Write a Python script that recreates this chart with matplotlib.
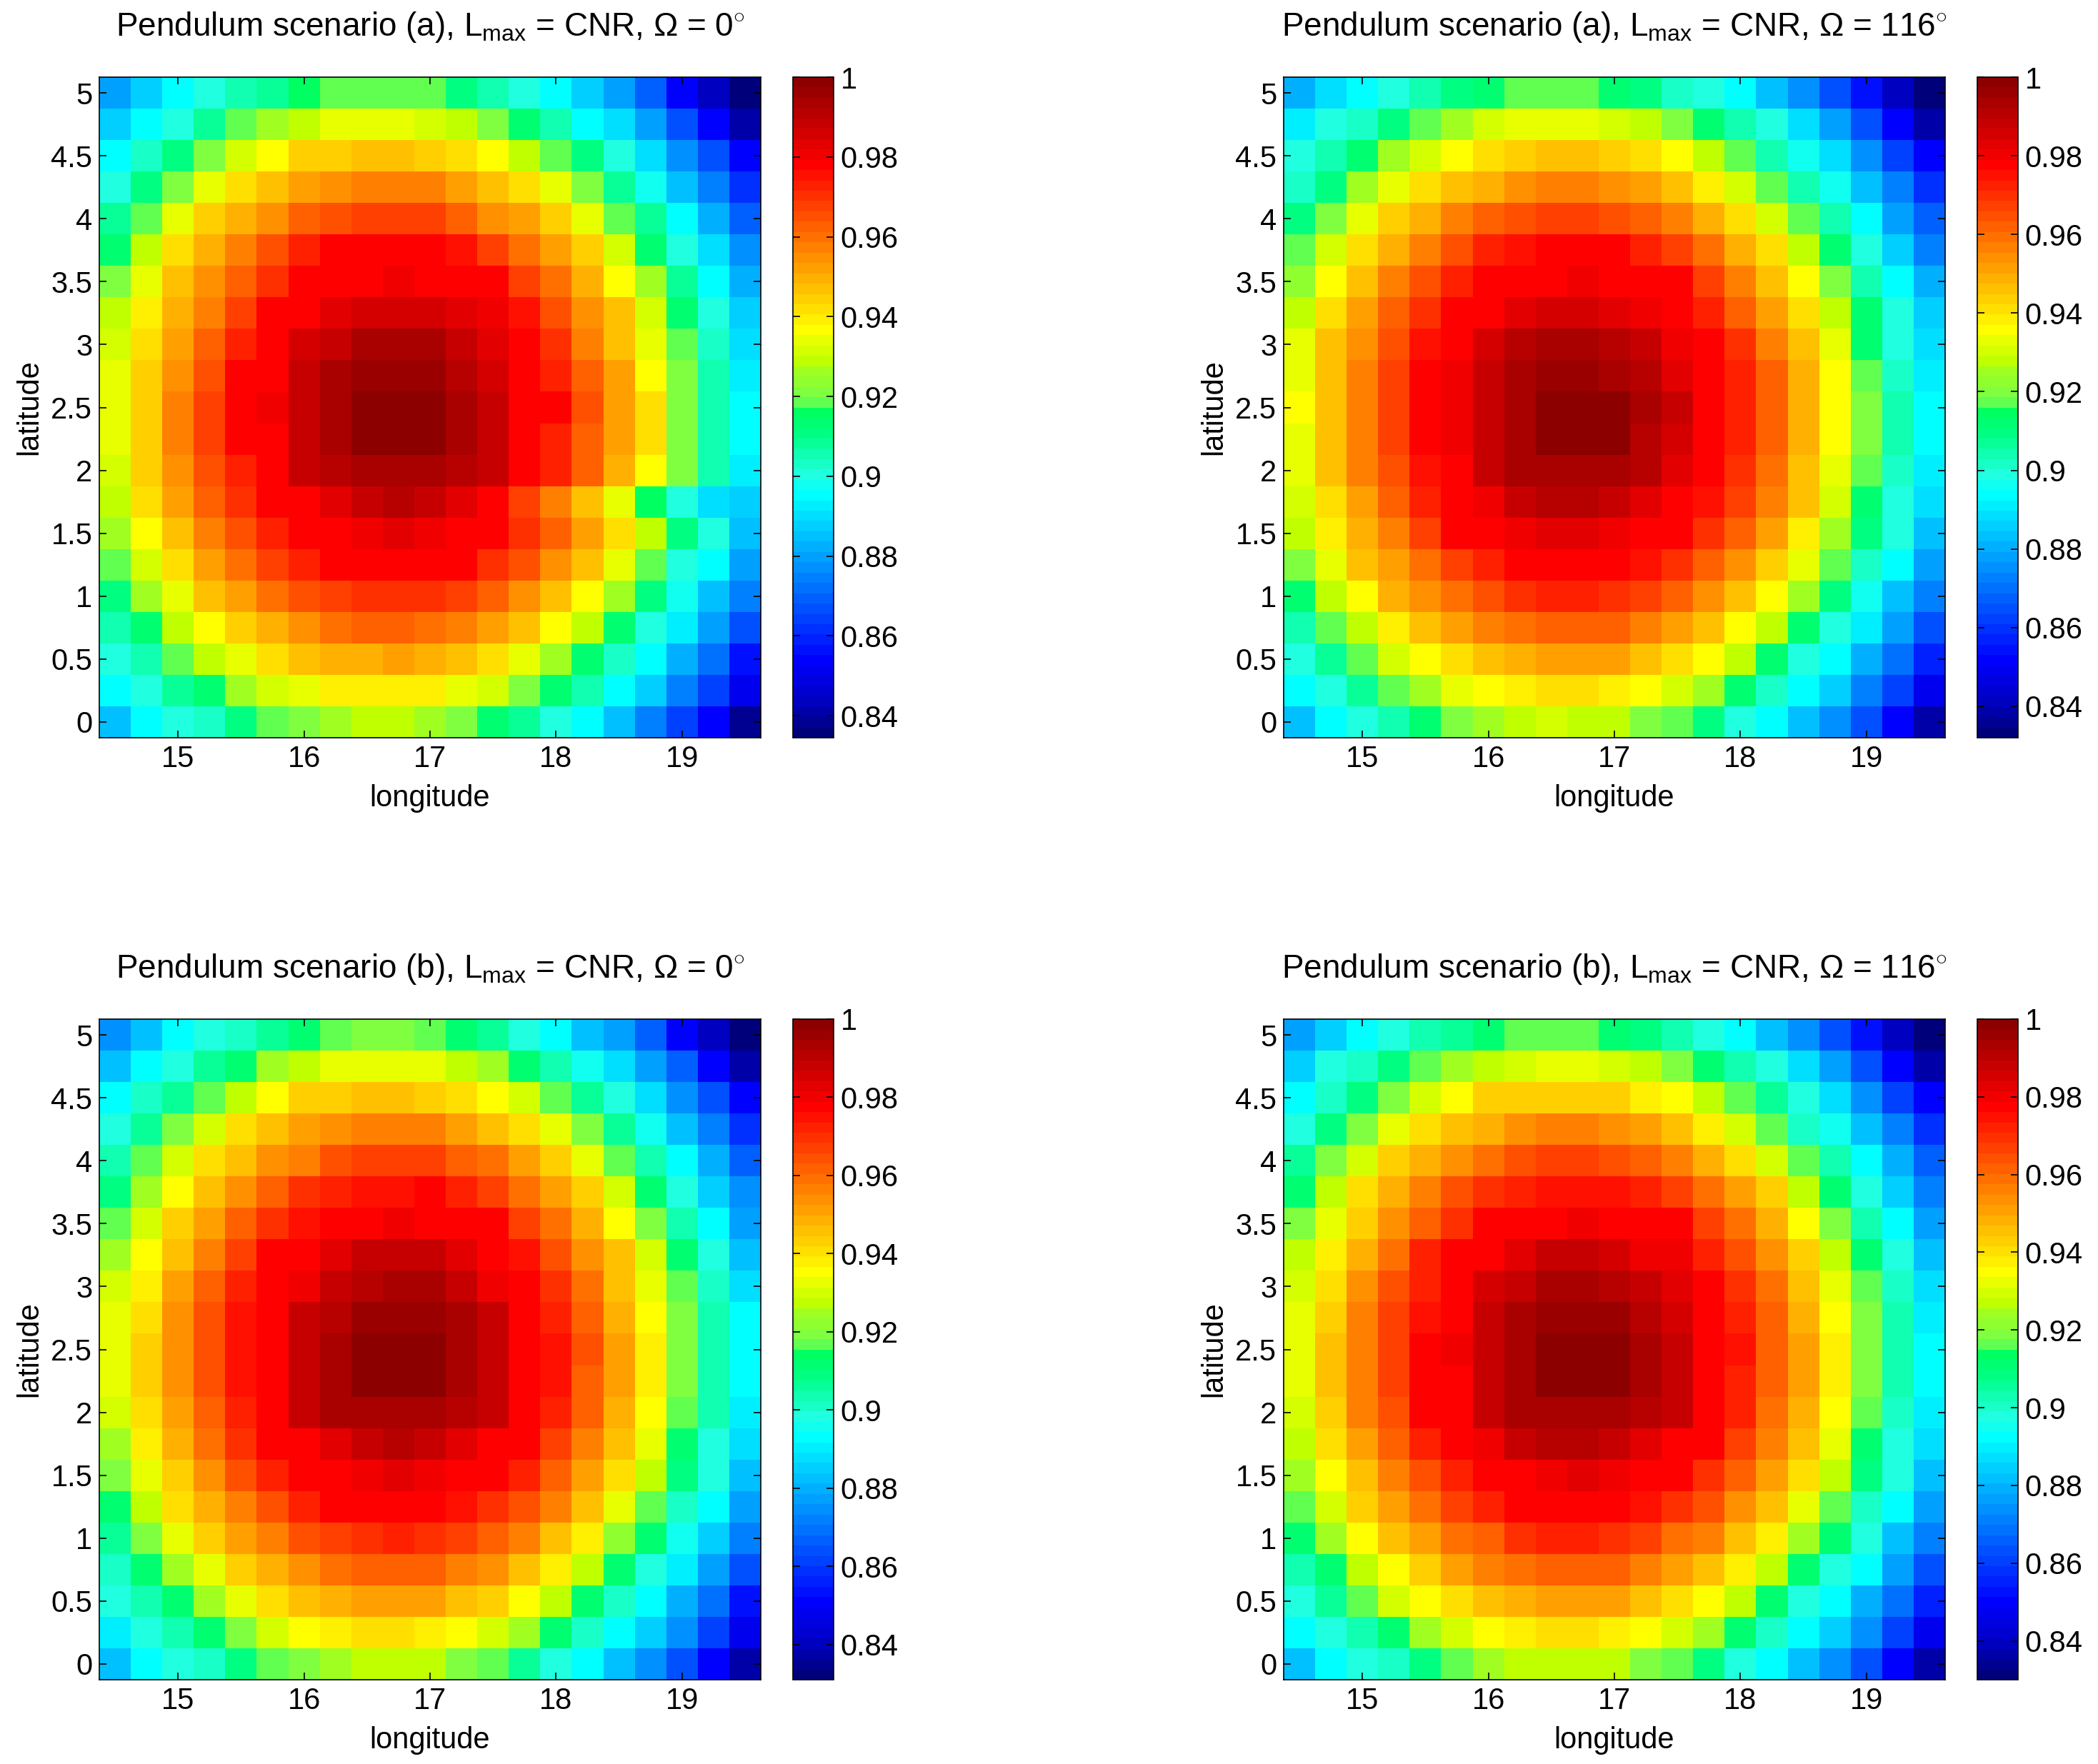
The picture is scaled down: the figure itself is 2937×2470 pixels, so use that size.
import numpy as np
import matplotlib
matplotlib.use('Agg')
import matplotlib.pyplot as plt
from matplotlib.colors import ListedColormap, Normalize
from matplotlib.ticker import FuncFormatter

# ====== SETTINGS ======
font_size = 30
title_size = 33
plt.rcParams['font.family'] = ['Liberation Sans', 'DejaVu Sans']
plt.rcParams['font.size'] = font_size
plt.rcParams['mathtext.fontset'] = 'custom'
plt.rcParams['mathtext.rm'] = 'Liberation Sans'
plt.rcParams['mathtext.it'] = 'Liberation Sans:italic'
plt.rcParams['mathtext.bf'] = 'Liberation Sans:bold'
# ======================

# grid centres
lon = [14.5, 14.75, 15.0, 15.25, 15.5, 15.75, 16.0, 16.25, 16.5, 16.75, 17.0,
       17.25, 17.5, 17.75, 18.0, 18.25, 18.5, 18.75, 19.0, 19.25, 19.5]
lat = [5.0, 4.75, 4.5, 4.25, 4.0, 3.75, 3.5, 3.25, 3.0, 2.75, 2.5,
       2.25, 2.0, 1.75, 1.5, 1.25, 1.0, 0.75, 0.5, 0.25, 0.0]   # top row first

titles = ['Pendulum scenario (a), L$_{\\mathrm{max}}$ = CNR, $\\Omega$ = 0$^{\\circ}$',
          'Pendulum scenario (a), L$_{\\mathrm{max}}$ = CNR, $\\Omega$ = 116$^{\\circ}$',
          'Pendulum scenario (b), L$_{\\mathrm{max}}$ = CNR, $\\Omega$ = 0$^{\\circ}$',
          'Pendulum scenario (b), L$_{\\mathrm{max}}$ = CNR, $\\Omega$ = 116$^{\\circ}$']

# colour-scale limits
clim_low = [0.8345, 0.832, 0.831, 0.830]
clim_high = [1.0, 1.0, 1.0, 1.0]
n_levels = 64

cbar_ticks = [0.84, 0.86, 0.88, 0.90, 0.92, 0.94, 0.96, 0.98, 1.0]

# colour level (1..64) read for each cell, rows from lat=5 down to lat=0
level_a0 = [
    [18, 21, 24, 26, 28, 29, 32, 33, 33, 33, 33, 30, 28, 26, 24, 21, 18, 14, 8, 4, 1],
    [21, 24, 26, 29, 33, 36, 37, 39, 39, 39, 38, 37, 34, 31, 28, 24, 22, 18, 13, 8, 3],
    [24, 27, 30, 34, 38, 40, 43, 43, 44, 44, 43, 42, 40, 37, 33, 30, 26, 22, 17, 13, 8],
    [26, 30, 34, 39, 42, 44, 46, 47, 48, 48, 48, 46, 44, 42, 39, 34, 29, 25, 20, 16, 11],
    [29, 33, 39, 43, 45, 47, 50, 51, 52, 52, 52, 50, 47, 46, 43, 39, 33, 29, 24, 19, 14],
    [31, 37, 42, 45, 48, 51, 54, 56, 56, 56, 56, 55, 52, 49, 46, 43, 38, 31, 26, 22, 17],
    [34, 39, 44, 47, 50, 53, 56, 56, 56, 57, 56, 56, 56, 52, 49, 45, 40, 36, 29, 24, 19],
    [37, 41, 45, 48, 52, 56, 56, 58, 59, 59, 59, 58, 57, 55, 51, 47, 44, 38, 31, 26, 21],
    [38, 42, 46, 50, 54, 56, 59, 60, 62, 62, 62, 60, 58, 56, 53, 48, 44, 39, 33, 27, 22],
    [39, 43, 47, 51, 56, 56, 60, 62, 63, 63, 63, 61, 59, 56, 54, 50, 46, 40, 34, 28, 23],
    [39, 43, 48, 52, 56, 57, 60, 62, 64, 64, 64, 62, 60, 56, 56, 51, 46, 42, 34, 28, 24],
    [39, 43, 48, 52, 56, 56, 60, 62, 64, 64, 64, 62, 60, 56, 54, 50, 46, 42, 34, 28, 24],
    [38, 43, 47, 51, 54, 56, 60, 61, 62, 62, 62, 61, 60, 56, 54, 50, 45, 40, 34, 28, 23],
    [37, 42, 46, 50, 53, 56, 56, 58, 60, 61, 60, 58, 56, 52, 48, 44, 39, 32, 26, 22, 21],
    [36, 40, 44, 48, 51, 54, 56, 56, 57, 58, 57, 56, 56, 53, 50, 46, 42, 37, 30, 26, 20],
    [33, 38, 42, 46, 49, 52, 54, 56, 56, 56, 56, 56, 53, 51, 47, 44, 39, 33, 26, 24, 18],
    [30, 36, 39, 44, 46, 49, 51, 52, 53, 53, 53, 52, 50, 47, 44, 40, 36, 30, 25, 20, 16],
    [28, 31, 37, 40, 43, 45, 47, 49, 50, 50, 49, 48, 46, 44, 40, 37, 31, 26, 23, 18, 13],
    [26, 28, 33, 37, 39, 42, 44, 45, 45, 46, 45, 44, 42, 39, 36, 31, 27, 24, 19, 15, 9],
    [24, 26, 29, 31, 36, 38, 39, 41, 41, 41, 41, 39, 38, 34, 31, 28, 24, 21, 16, 12, 7],
    [20, 24, 26, 27, 30, 33, 34, 36, 37, 37, 36, 34, 31, 29, 26, 24, 20, 16, 12, 8, 2],
]

level_a116 = [
    [19, 22, 24, 26, 28, 30, 31, 33, 33, 33, 31, 30, 27, 26, 24, 20, 17, 13, 9, 4, 1],
    [23, 26, 27, 30, 33, 36, 38, 39, 39, 39, 38, 37, 34, 31, 28, 26, 22, 18, 13, 8, 3],
    [26, 28, 31, 36, 38, 40, 42, 43, 44, 44, 43, 42, 40, 37, 33, 28, 25, 22, 17, 12, 8],
    [27, 30, 36, 39, 42, 44, 45, 47, 48, 48, 47, 46, 44, 41, 38, 33, 28, 25, 20, 16, 11],
    [30, 34, 39, 43, 45, 48, 50, 51, 52, 52, 51, 50, 48, 45, 42, 38, 33, 28, 24, 18, 14],
    [33, 38, 42, 45, 48, 51, 54, 55, 56, 56, 56, 54, 52, 49, 45, 42, 37, 31, 26, 21, 16],
    [35, 40, 44, 48, 51, 54, 56, 56, 56, 57, 56, 56, 56, 52, 48, 44, 40, 34, 28, 24, 19],
    [37, 42, 46, 50, 53, 56, 56, 58, 59, 59, 58, 57, 56, 54, 50, 46, 42, 37, 31, 26, 21],
    [39, 44, 47, 51, 55, 56, 59, 61, 62, 62, 61, 60, 57, 56, 53, 48, 44, 39, 31, 26, 22],
    [39, 44, 48, 52, 56, 57, 60, 62, 63, 63, 62, 61, 58, 56, 54, 50, 45, 40, 33, 27, 23],
    [40, 44, 48, 52, 56, 57, 60, 62, 64, 64, 64, 62, 60, 56, 54, 50, 45, 40, 34, 28, 24],
    [39, 44, 48, 52, 56, 57, 60, 62, 64, 64, 64, 61, 59, 56, 54, 50, 45, 40, 34, 28, 24],
    [39, 44, 48, 51, 55, 56, 60, 62, 62, 62, 62, 61, 58, 56, 53, 49, 44, 39, 33, 27, 23],
    [38, 42, 46, 50, 54, 56, 57, 60, 61, 61, 60, 58, 56, 55, 52, 48, 44, 38, 31, 26, 22],
    [37, 41, 45, 48, 52, 56, 56, 57, 58, 58, 57, 56, 56, 53, 50, 46, 41, 36, 30, 26, 20],
    [34, 39, 44, 46, 49, 52, 54, 56, 56, 56, 56, 55, 53, 50, 47, 43, 39, 33, 27, 24, 18],
    [31, 37, 40, 45, 47, 49, 51, 53, 54, 54, 53, 52, 50, 47, 44, 40, 36, 30, 25, 20, 16],
    [28, 33, 37, 41, 44, 46, 48, 49, 50, 50, 50, 48, 46, 44, 40, 37, 31, 26, 23, 18, 13],
    [26, 29, 33, 38, 40, 42, 44, 45, 46, 46, 46, 44, 42, 40, 37, 31, 26, 24, 19, 15, 10],
    [24, 26, 29, 33, 36, 39, 40, 41, 42, 42, 41, 40, 38, 36, 31, 27, 24, 21, 16, 12, 7],
    [20, 24, 26, 28, 31, 34, 36, 37, 38, 37, 37, 34, 33, 30, 26, 24, 20, 17, 13, 8, 3],
]

level_b0 = [
    [17, 20, 24, 26, 27, 29, 31, 33, 34, 34, 33, 31, 29, 26, 24, 20, 18, 14, 8, 4, 1],
    [20, 24, 26, 29, 31, 36, 37, 39, 39, 39, 39, 37, 36, 31, 28, 25, 22, 18, 14, 8, 3],
    [24, 27, 29, 33, 37, 40, 43, 43, 44, 44, 43, 42, 40, 38, 33, 29, 26, 22, 17, 13, 8],
    [26, 29, 34, 38, 42, 44, 46, 47, 48, 48, 48, 46, 44, 42, 39, 34, 29, 25, 20, 16, 11],
    [28, 33, 38, 42, 44, 47, 48, 51, 52, 52, 52, 50, 49, 46, 43, 39, 33, 28, 24, 19, 14],
    [30, 36, 40, 44, 47, 50, 53, 54, 55, 55, 56, 54, 52, 49, 46, 43, 38, 31, 26, 21, 17],
    [33, 38, 43, 46, 50, 53, 55, 56, 56, 57, 56, 56, 56, 52, 49, 45, 40, 34, 28, 24, 18],
    [36, 40, 44, 48, 52, 56, 56, 58, 60, 60, 60, 58, 56, 55, 51, 47, 44, 38, 31, 26, 20],
    [38, 41, 46, 50, 54, 56, 57, 60, 61, 62, 62, 60, 57, 56, 53, 49, 44, 39, 33, 27, 22],
    [39, 42, 47, 51, 55, 56, 60, 61, 63, 63, 63, 62, 60, 56, 54, 50, 45, 40, 34, 28, 24],
    [39, 43, 47, 51, 55, 56, 60, 62, 64, 64, 64, 62, 60, 56, 55, 51, 46, 41, 34, 28, 24],
    [39, 43, 47, 51, 55, 56, 60, 62, 64, 64, 64, 62, 60, 56, 55, 50, 46, 41, 34, 28, 24],
    [38, 42, 46, 50, 54, 56, 60, 62, 62, 62, 62, 61, 60, 56, 54, 50, 45, 40, 33, 28, 23],
    [36, 41, 45, 49, 53, 56, 56, 58, 60, 61, 60, 58, 56, 56, 52, 48, 44, 39, 31, 26, 22],
    [34, 39, 43, 47, 51, 54, 56, 56, 57, 58, 57, 56, 56, 54, 50, 46, 42, 37, 30, 26, 20],
    [31, 37, 42, 45, 48, 51, 54, 56, 56, 56, 56, 55, 53, 51, 48, 44, 39, 33, 27, 24, 18],
    [29, 34, 39, 43, 46, 48, 51, 52, 53, 54, 53, 52, 50, 48, 44, 41, 35, 31, 25, 21, 16],
    [27, 31, 36, 39, 43, 45, 47, 49, 50, 50, 50, 48, 47, 44, 41, 37, 31, 26, 23, 18, 13],
    [26, 28, 31, 36, 39, 42, 44, 45, 46, 46, 46, 44, 43, 40, 37, 31, 27, 24, 19, 15, 9],
    [23, 26, 28, 31, 34, 38, 40, 41, 42, 42, 41, 40, 38, 36, 31, 27, 24, 21, 17, 12, 7],
    [20, 24, 26, 27, 30, 33, 34, 36, 37, 37, 37, 34, 33, 29, 26, 24, 20, 17, 13, 8, 3],
]

level_b116 = [
    [18, 21, 24, 26, 28, 29, 31, 33, 33, 33, 31, 30, 28, 26, 24, 20, 17, 13, 9, 4, 1],
    [21, 26, 27, 30, 33, 36, 37, 38, 39, 39, 38, 37, 34, 31, 28, 26, 22, 18, 13, 8, 3],
    [24, 27, 30, 34, 38, 40, 43, 43, 43, 43, 43, 41, 40, 37, 33, 29, 26, 22, 17, 12, 8],
    [26, 30, 34, 39, 42, 44, 45, 47, 48, 48, 47, 46, 44, 41, 38, 33, 27, 25, 20, 16, 11],
    [29, 34, 38, 43, 45, 47, 49, 51, 52, 52, 51, 50, 48, 45, 42, 38, 33, 28, 24, 19, 14],
    [31, 37, 42, 45, 48, 51, 53, 54, 55, 55, 55, 54, 52, 49, 46, 43, 37, 31, 26, 21, 16],
    [34, 39, 43, 47, 50, 53, 56, 56, 56, 57, 56, 56, 56, 52, 49, 45, 40, 34, 28, 24, 18],
    [37, 41, 45, 49, 54, 56, 56, 58, 60, 60, 59, 57, 57, 54, 51, 47, 43, 37, 31, 26, 20],
    [38, 42, 47, 51, 54, 56, 59, 60, 62, 62, 61, 60, 58, 56, 53, 49, 44, 39, 33, 27, 22],
    [39, 43, 48, 52, 55, 56, 60, 62, 63, 63, 63, 61, 59, 56, 54, 50, 45, 40, 34, 28, 23],
    [39, 44, 48, 52, 56, 57, 60, 62, 64, 64, 64, 62, 60, 56, 55, 50, 46, 41, 34, 28, 24],
    [39, 44, 48, 52, 56, 56, 60, 62, 64, 64, 64, 62, 60, 56, 54, 50, 46, 41, 34, 28, 24],
    [38, 43, 48, 51, 56, 56, 60, 62, 62, 62, 62, 61, 60, 56, 54, 49, 45, 40, 33, 27, 23],
    [37, 42, 46, 50, 54, 56, 57, 60, 61, 61, 60, 58, 56, 56, 52, 48, 44, 39, 31, 26, 22],
    [36, 40, 44, 48, 51, 54, 56, 56, 57, 58, 57, 56, 56, 53, 50, 46, 42, 37, 30, 26, 20],
    [33, 38, 43, 46, 49, 52, 54, 56, 56, 56, 56, 55, 53, 51, 47, 44, 39, 33, 27, 24, 18],
    [31, 36, 40, 44, 46, 49, 50, 53, 54, 54, 53, 52, 49, 48, 44, 41, 36, 31, 26, 20, 16],
    [28, 31, 37, 40, 43, 46, 48, 49, 50, 50, 50, 48, 46, 44, 41, 37, 31, 26, 24, 18, 13],
    [26, 29, 33, 38, 40, 42, 44, 45, 46, 46, 46, 44, 42, 40, 37, 31, 26, 24, 19, 15, 10],
    [24, 26, 28, 31, 36, 38, 40, 41, 42, 42, 41, 40, 38, 36, 31, 27, 24, 21, 17, 12, 7],
    [20, 24, 26, 27, 30, 33, 36, 37, 37, 37, 37, 34, 33, 30, 26, 24, 20, 17, 13, 8, 3],
]

panel_levels = [level_a0, level_a116, level_b0, level_b116]

# jet-like palette as it appears in the picture (anchor level -> colour)
anchor_k = [1, 4, 8, 16, 24, 26, 28, 30, 32, 33, 34, 36, 37, 39, 40, 48, 56, 64]
anchor_hex = ['#00007a', '#0000c0', '#0000ff', '#0080ff', '#00ffff', '#20ffe0',
              '#10ffb0', '#00ff80', '#00ff60', '#60ff50', '#80ff40', '#a0ff20',
              '#c0ff00', '#e8ff00', '#ffff00', '#ff8000', '#ff0000', '#8c0000']
anchor_rgb = np.array([[int(h[i:i + 2], 16) / 255 for i in (1, 3, 5)] for h in anchor_hex])
ks = np.arange(1, n_levels + 1)
palette = np.column_stack([np.interp(ks, anchor_k, anchor_rgb[:, c]) for c in range(3)])
cmap = ListedColormap(palette)

# axes placement in pixels of the 2937 x 2470 figure: (x0, y_top)
W, H = 2937, 2470
axes_px = [(139, 108), (1797, 108), (139, 1427), (1797, 1427)]
ax_w, ax_h = 926, 925
cb_dx, cb_w = 971, 57

fig = plt.figure(figsize=(W / 100, H / 100), dpi=100)

def fmt_g(v, pos):
    return '%g' % round(v, 4)

lon_arr = np.array(lon)
lat_arr = np.array(lat)[::-1]

for i, levels in enumerate(panel_levels):
    x0, y0 = axes_px[i]
    ax = fig.add_axes([x0 / W, 1 - (y0 + ax_h) / H, ax_w / W, ax_h / H])
    cax = fig.add_axes([(x0 + cb_dx) / W, 1 - (y0 + ax_h) / H, cb_w / W, ax_h / H])

    lo, hi = clim_low[i], clim_high[i]
    lv = np.array(levels, dtype=float)[::-1]
    values = lo + (lv - 0.5) * (hi - lo) / n_levels
    norm = Normalize(vmin=lo, vmax=hi)
    mesh = ax.pcolormesh(lon_arr, lat_arr, values, cmap=cmap, norm=norm, shading='nearest')

    ax.set_xlim(14.375, 19.625)
    ax.set_ylim(-0.125, 5.125)
    ax.set_xticks([15, 16, 17, 18, 19])
    ax.set_yticks(np.arange(0, 5.01, 0.5))
    ax.yaxis.set_major_formatter(FuncFormatter(fmt_g))
    ax.xaxis.set_major_formatter(FuncFormatter(fmt_g))
    ax.tick_params(direction='in', top=True, right=True, length=7.5, width=1.2, pad=7)
    for sp in ax.spines.values():
        sp.set_linewidth(1.2)
    ax.set_xlabel('longitude', labelpad=11)
    ax.set_ylabel('latitude', labelpad=7)
    ax.set_title(titles[i], pad=42, fontsize=title_size)

    cb = fig.colorbar(mesh, cax=cax)
    cb.set_ticks(cbar_ticks)
    cb.ax.yaxis.set_major_formatter(FuncFormatter(fmt_g))
    cb.ax.tick_params(direction='in', left=True, right=True, length=7.5, width=1.2, pad=7)
    cb.outline.set_linewidth(1.2)

fig.savefig('out.png', dpi=100)
